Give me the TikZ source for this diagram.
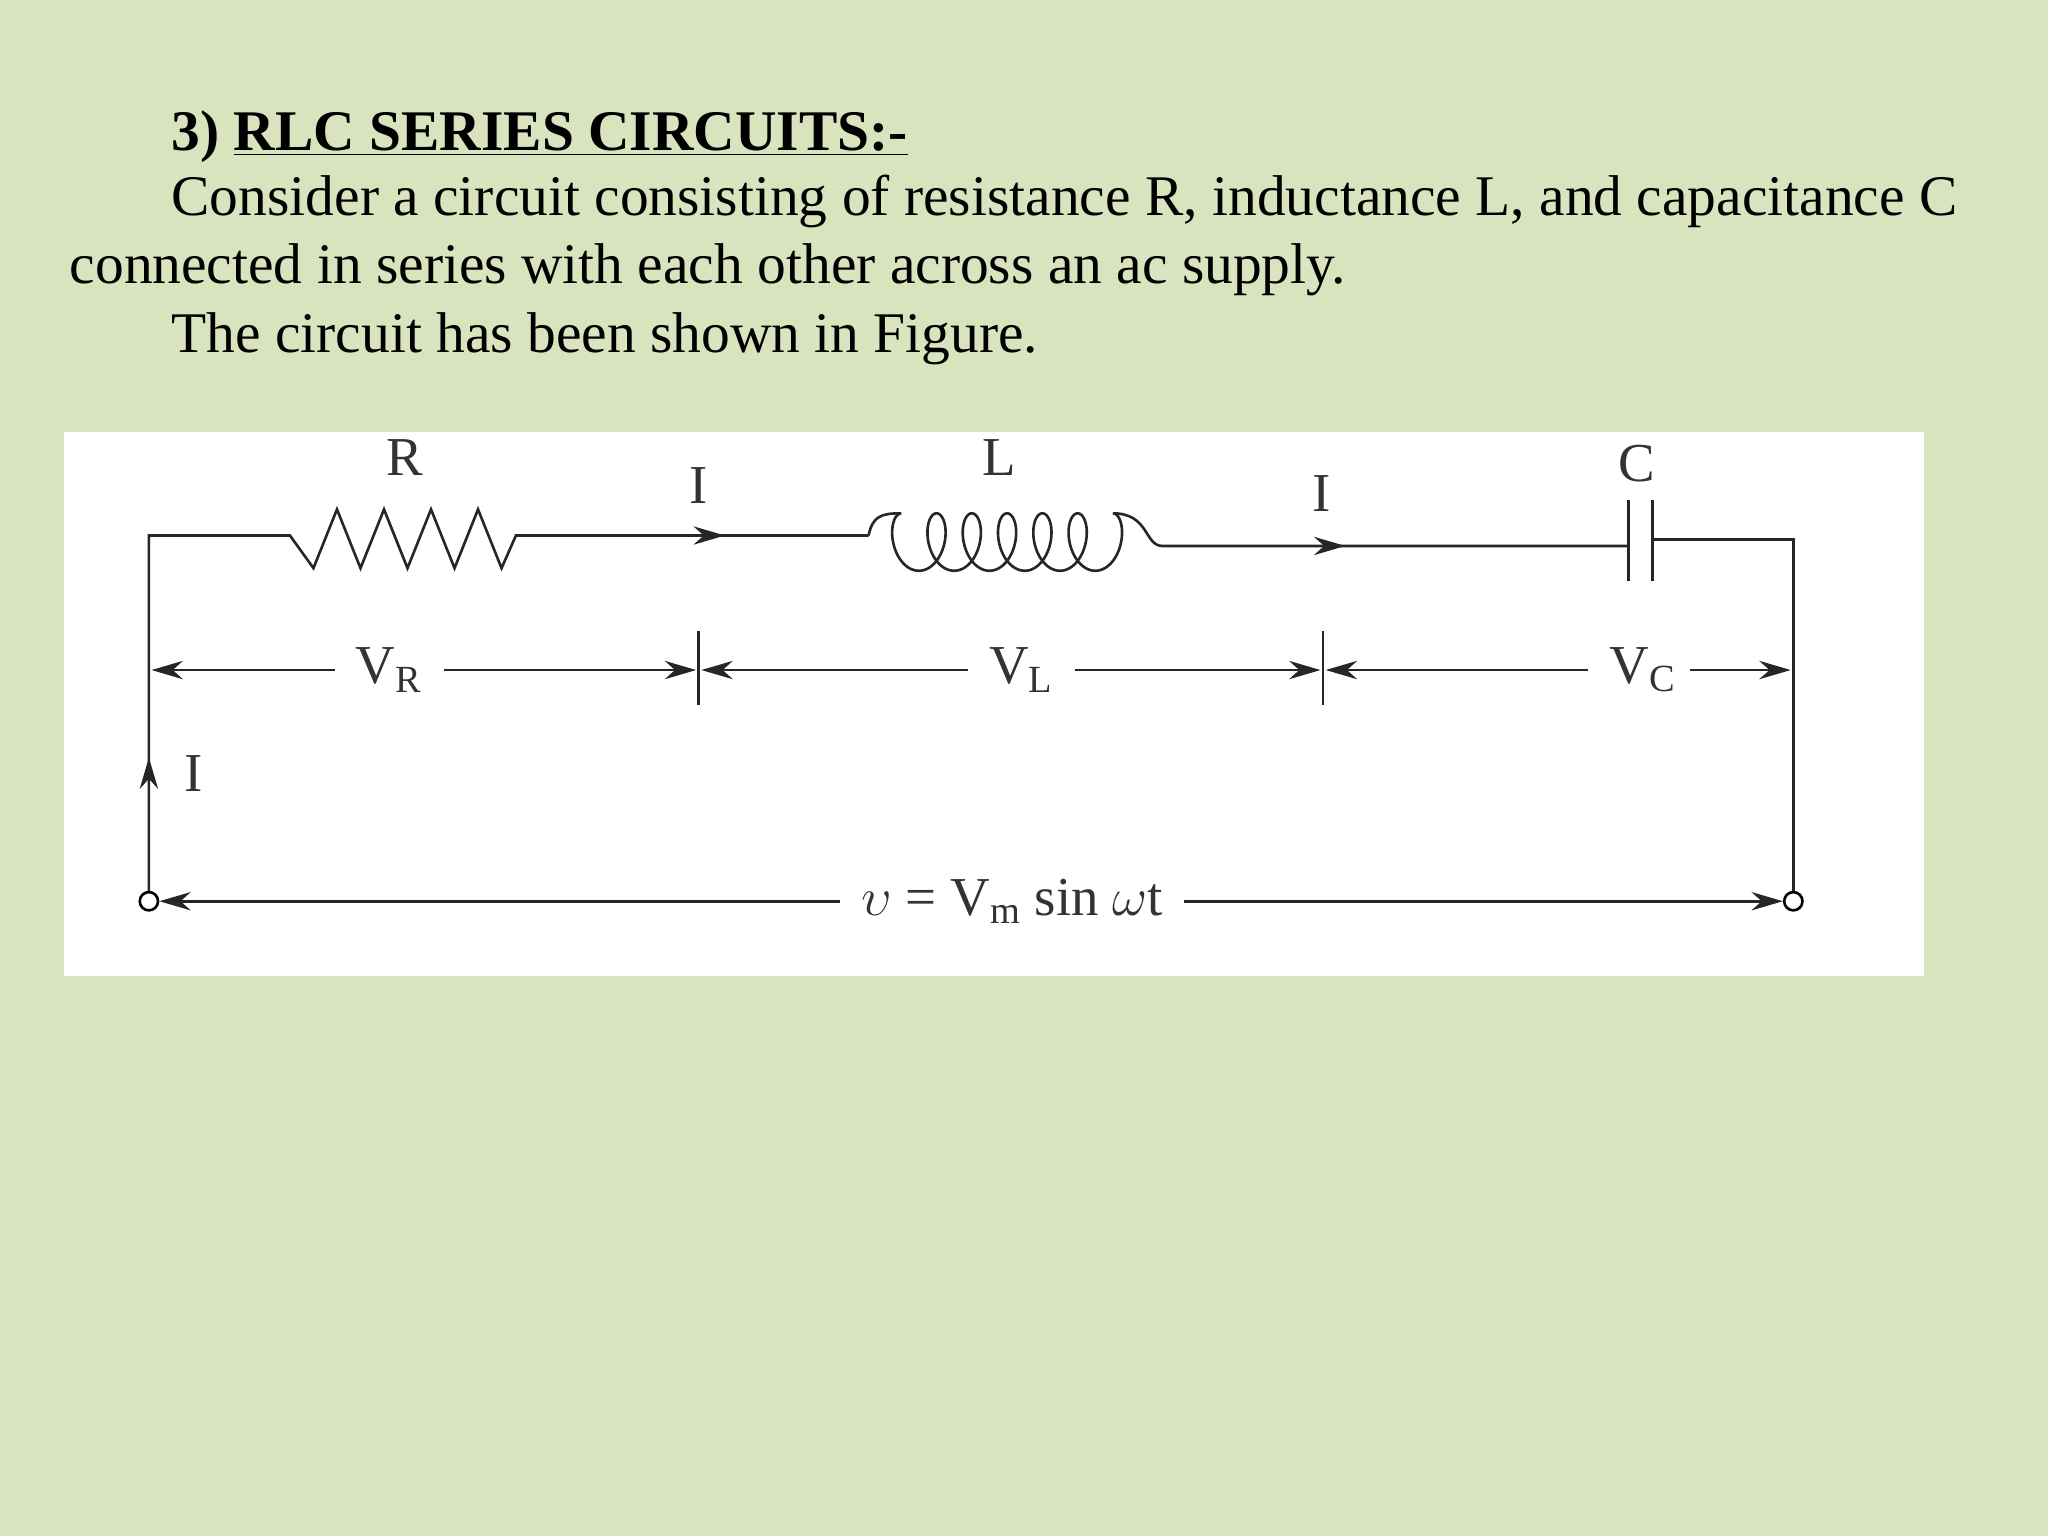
\documentclass[tikz,border=0pt]{standalone}
\usepackage{fontspec}
\setmainfont{Liberation Serif}
\usetikzlibrary{arrows.meta}
\begin{document}
\begin{tikzpicture}[x=0.5pt,y=-0.5pt,
  txt/.style={anchor=base west,inner sep=0,font=\fontsize{22}{26}\selectfont},
  lbl/.style={inner sep=0,font=\fontsize{21}{24}\selectfont\color{black!80}},
  w/.style={line width=1pt,black!85},
  arr/.style={-{Stealth[length=12pt,width=7pt]}},
  term/.style={circle,draw,line width=1pt,fill=white,minimum size=7pt,inner sep=0}]
\fill[fill={rgb,255:red,217;green,228;blue,191}] (0,0) rectangle (1568,1176);
\useasboundingbox (0,0) rectangle (1568,1176);
\node[txt] (t0) at (131,115) {\textbf{3) \underline{RLC SERIES CIRCUITS:-}}};
\node[txt] (t1) at (131,165) {Consider a circuit consisting of resistance R, inductance L, and capacitance C};
\node[txt] (t2) at (53,217) {connected in series with each other across an ac supply.};
\node[txt] (t3) at (131,270) {The circuit has been shown in Figure.};
\fill[white] (49,331) rectangle (1473,747);
\node[term] (A) at (114,690) {};
\node[term] (B) at (1373,690) {};
\coordinate (tl) at (114,410);
\coordinate (tr) at (1373,413);
\draw[w] (A) -- (tl) -- (222,410) -- (240,435) -- (258,390) -- (276,435) -- (294,390) -- (312,435) -- (330,390) -- (348,435) -- (366,390) -- (384,435) -- (395,410) -- (665,410);
\draw[w,arr] (470,410) -- (555,410);
\draw[w] (665,410) .. controls (668,395) and (675,393) .. (690,393);
\draw[w,domain=0:37.7,samples=400,smooth,variable=\t] plot ({690+4.3*\t-13*sin(\t r)},{415-22*cos(\t r)});
\draw[w] (852,393) .. controls (880,393) and (876,418) .. (890,418) -- (1247,418);
\draw[w,arr] (950,418) -- (1030,418);
\draw[w] (1247,383) -- (1247,445) (1265,383) -- (1265,445);
\draw[w] (1265,413) -- (tr) -- (B);
\draw[w] (535,483) -- (535,540) (1013,483) -- (1013,540);
\node[lbl] (VR) at (298,513) {V\textsubscript{R}};
\node[lbl] (VL) at (782,513) {V\textsubscript{L}};
\node[lbl] (VC) at (1258,513) {V\textsubscript{C}};
\draw[w,arr] ([xshift=-8pt]VR.west) -- (116,513);
\draw[w,arr] ([xshift=8pt]VR.east) -- (533,513);
\draw[w,arr] ([xshift=-8pt]VL.west) -- (537,513);
\draw[w,arr] ([xshift=8pt]VL.east) -- (1011,513);
\draw[w,arr] ([xshift=-8pt]VC.west) -- (1015,513);
\draw[w,arr] ([xshift=5pt]VC.east) -- (1371,513);
\draw[w,arr] (114,620) -- (114,580);
\node[lbl] (I3) at (148,592) {I};
\node[lbl] (vs) at (775,690) {$\upsilon$ = V\textsubscript{m} sin $\omega$t};
\draw[w,arr] ([xshift=-8pt]vs.west) -- (A);
\draw[w,arr] ([xshift=8pt]vs.east) -- (B);
\node[lbl] (R) at (310,350) {R};
\node[lbl] (I1) at (535,372) {I};
\node[lbl] (L) at (765,350) {L};
\node[lbl] (I2) at (1012,378) {I};
\node[lbl] (C) at (1253,355) {C};
\end{tikzpicture}
\end{document}
